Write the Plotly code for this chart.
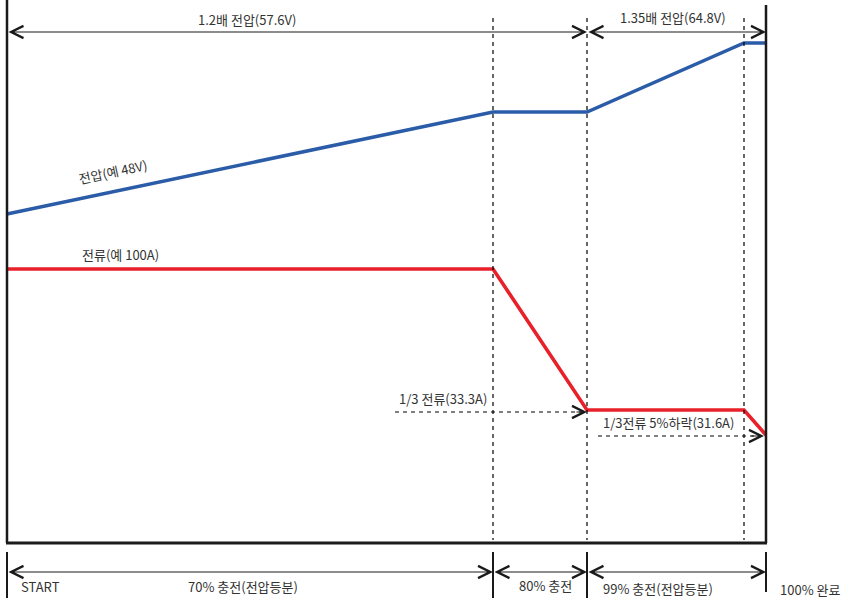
import plotly.graph_objects as go

# ---- data (schematic units: time in a.u., level in a.u.) ----
stage_time = [0, 486, 580, 737, 759]          # START, 70%, 80%, 99%, 100%
voltage_level = [329, 431, 431, 500, 500]     # 48V -> 57.6V -> 57.6V -> 64.8V -> 64.8V
current_level = [274, 274, 133, 133, 108]     # 100A -> 100A -> 33.3A -> 33.3A -> 31.6A
stage_labels = ["START", "70% 충전(전압등분)", "80% 충전", "99% 충전(전압등분)", "100% 완료"]
voltage_labels = ["1.2배 전압(57.6V)", "1.35배 전압(64.8V)"]
series_labels = ["전압(예 48V)", "전류(예 100A)"]
current_notes = ["1/3 전류(33.3A)", "1/3전류 5%하락(31.6A)"]

W, H = 846, 598
X0, YB = 7, 543
def X(px):
    return px - X0
def Y(py):
    return YB - py

FONT = "Noto Sans CJK KR"
BLUE = "#2b5ca8"
RED = "#e8202a"
INK = "#1a1a1a"
TXT = "#333333"

fig = go.Figure()
fig.add_trace(go.Scatter(x=stage_time, y=voltage_level, mode="lines",
                         line=dict(color=BLUE, width=3.5), hoverinfo="skip", showlegend=False))
fig.add_trace(go.Scatter(x=stage_time, y=current_level, mode="lines",
                         line=dict(color=RED, width=3.5), hoverinfo="skip", showlegend=False))

shapes = []
def line(x0, y0, x1, y1, w=1, dash="solid", color=INK):
    shapes.append(dict(type="line", xref="x", yref="y", x0=X(x0), y0=Y(y0), x1=X(x1), y1=Y(y1),
                       line=dict(color=color, width=w, dash=dash), layer="above"))

# frame
line(7, 0, 7, 543, w=2.5)
line(766, 5, 766, 543, w=2.5)
line(6, 543, 767, 543, w=3)
# dashed stage boundaries
tx = [X0 + t for t in stage_time]
line(tx[1], 18, tx[1], 540, w=1.2, dash="4px,4px", color="#000")
line(tx[2], 18, tx[2], 540, w=1.2, dash="4px,4px", color="#000")
line(tx[3], 18, tx[3], 540, w=1.2, dash="4px,4px", color="#000")
# bottom ticks
line(tx[0], 552, tx[0], 598, w=2)
line(tx[1], 552, tx[1], 598, w=2)
line(tx[2], 552, tx[2], 598, w=2)
line(tx[4], 552, tx[4], 592, w=2)
# dashed arrow shafts
line(395, 412, 585, 412, w=1.2, dash="4px,4px", color="#000")
line(598, 436, 762, 436, w=1.2, dash="4px,4px", color="#000")

annotations = []
def arrow(x0, x1, y, both=True):
    annotations.append(dict(x=X(x1), y=Y(y), ax=X(x0), ay=Y(y), xref="x", yref="y",
                            axref="x", ayref="y", text="", showarrow=True,
                            arrowhead=5, startarrowhead=5,
                            arrowside="end+start" if both else "end",
                            arrowsize=2.2, startarrowsize=2.2,
                            arrowwidth=1.1, arrowcolor=INK))

def text(s, x, y, size=13, angle=0):
    annotations.append(dict(x=X(x), y=Y(y), xref="x", yref="y", text=s, showarrow=False,
                            textangle=angle, font=dict(family=FONT, size=size, color=TXT)))

arrow(7, 587, 32)
arrow(587, 766, 32)
arrow(7, 493, 572)
arrow(493, 587, 572)
arrow(587, 766, 572)
arrow(575, 587, 412, both=False)
arrow(750, 764, 436, both=False)

text(voltage_labels[0], 247, 19)
text(voltage_labels[1], 673, 17)
text(series_labels[0], 113, 171, angle=-12)
text(series_labels[1], 120, 254)
text(current_notes[0], 443, 398)
text(current_notes[1], 668, 422)
text(stage_labels[0], 40, 586)
text(stage_labels[1], 243, 586)
text(stage_labels[2], 545, 585)
text(stage_labels[3], 658, 588)
text(stage_labels[4], 810, 589)

fig.update_layout(
    width=W, height=H, margin=dict(l=0, r=0, t=0, b=0),
    paper_bgcolor="white", plot_bgcolor="white",
    xaxis=dict(range=[X(0), X(W)], visible=False, fixedrange=True),
    yaxis=dict(range=[Y(H), Y(0)], visible=False, fixedrange=True),
    shapes=shapes, annotations=annotations, showlegend=False,
)
fig.write_html("out.html", config={"displayModeBar": False},
               post_script="document.body.style.margin='0';document.body.style.overflow='hidden';")
